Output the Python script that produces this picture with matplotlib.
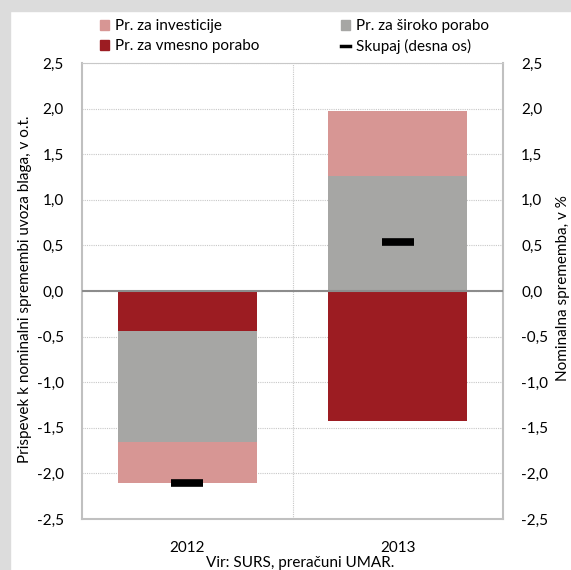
import numpy as np
import matplotlib
matplotlib.use('Agg')
import matplotlib.pyplot as plt
from matplotlib.patches import Rectangle, Patch
from matplotlib.lines import Line2D

plt.rcParams['font.family'] = ['Lato', 'DejaVu Sans']

# Data (contributions, percentage points)
years = ['2012', '2013']
pr_vmesno = [-0.44, -1.43]
pr_siroko = [-1.22, 1.26]
pr_invest = [-0.45, 0.71]
skupaj = [-2.1, 0.54]

c_inv = '#d79694'
c_sir = '#a6a6a4'
c_vme = '#9c1c22'
fs = 11

fig = plt.figure(figsize=(5.71, 5.70), dpi=100)
# gray frame strips (left and top)
fig.patches.append(Rectangle((0, 0), 10 / 571, 1, transform=fig.transFigure, color='#dcdcdc', zorder=0))
fig.patches.append(Rectangle((0, 1 - 11 / 570), 1, 11 / 570, transform=fig.transFigure, color='#dcdcdc', zorder=0))

ax = fig.add_axes([82 / 571, 1 - 519 / 570, 421 / 571, 456 / 570])
x = np.arange(len(years))
w = 0.66

# stack: negatives and positives separately
pos_base = np.zeros(len(years))
neg_base = np.zeros(len(years))
for vals, col in [(pr_vmesno, c_vme), (pr_siroko, c_sir), (pr_invest, c_inv)]:
    vals = np.array(vals)
    bottoms = np.where(vals >= 0, pos_base, neg_base)
    ax.bar(x, vals, width=w, bottom=bottoms, color=col, zorder=2)
    pos_base = pos_base + np.where(vals >= 0, vals, 0)
    neg_base = neg_base + np.where(vals < 0, vals, 0)

ax.set_xlim(-0.5, 1.5)
ax.set_ylim(-2.5, 2.5)
ticks = np.arange(-2.5, 2.51, 0.5)
tick_lbl = [('%.1f' % t).replace('.', ',') for t in ticks]
ax.set_yticks(ticks)
ax.set_yticklabels(tick_lbl, fontsize=fs)
ax.set_xticks(x)
ax.set_xticklabels(years, fontsize=fs)
ax.tick_params(axis='y', length=0, pad=13)
ax.tick_params(axis='x', length=0, pad=16)

ax.grid(axis='y', color='#c8c8c8', linestyle=(0, (1, 1)), linewidth=0.8, zorder=0)
ax.axvline(0.5, color='#c8c8c8', linestyle=(0, (1, 1)), linewidth=0.8, zorder=0)
ax.axhline(0, color='#8c8c8c', linewidth=1.5, zorder=3)
for s in ax.spines.values():
    s.set_color('#c0c0c0')
    s.set_linewidth(1.5)
ax.spines['top'].set_linestyle((0, (1, 1)))
ax.spines['top'].set_linewidth(0.8)
ax.spines['top'].set_color('#c8c8c8')

ax2 = ax.twinx()
ax2.set_ylim(-2.5, 2.5)
ax2.set_yticks(ticks)
ax2.set_yticklabels(tick_lbl, fontsize=fs)
ax2.tick_params(length=0, pad=13)
for s in ax2.spines.values():
    s.set_visible(False)
ax2.plot(x, skupaj, linestyle='none', marker='_', markersize=23, markeredgewidth=5.5, color='black', zorder=5)

fig.text(25 / 571, 1 - 289 / 570, 'Prispevek k nominalni spremembi uvoza blaga, v o.t.',
         rotation=90, ha='center', va='center', fontsize=fs)
fig.text(563 / 571, 1 - 288 / 570, 'Nominalna sprememba, v %',
         rotation=90, ha='center', va='center', fontsize=fs)

handles = [Patch(color=c_inv, label='Pr. za investicije'),
           Patch(color=c_vme, label='Pr. za vmesno porabo'),
           Patch(color=c_sir, label='Pr. za široko porabo'),
           Line2D([], [], color='black', linewidth=2.5, label='Skupaj (desna os)')]
fig.legend(handles=handles, ncol=2, frameon=False, fontsize=fs,
           loc='upper left', bbox_to_anchor=(94 / 571, 1 - 13 / 570),
           handlelength=0.6, handleheight=0.6, handletextpad=0.4,
           columnspacing=5.3, labelspacing=0.4, borderaxespad=0)

fig.text(300 / 571, 1 - 563 / 570, 'Vir: SURS, preračuni UMAR.', ha='center', va='center', fontsize=fs)

fig.savefig('out.png', dpi=100)
